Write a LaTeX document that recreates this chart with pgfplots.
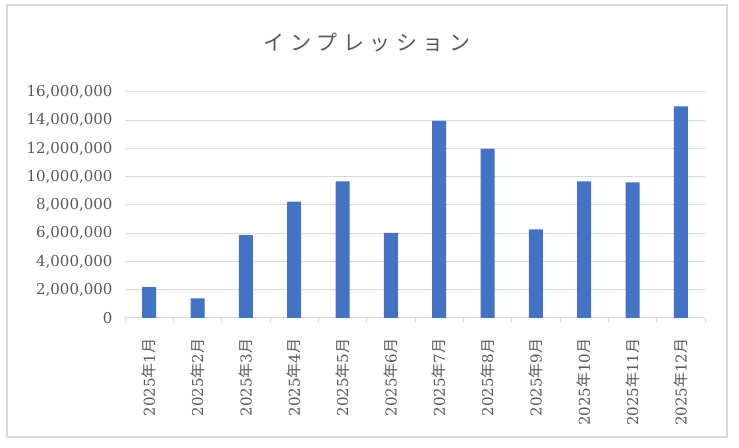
\documentclass[border=0pt]{standalone}
\usepackage{pgfplots}
\pgfplotsset{compat=1.18}
\usepackage{fontspec}
\setmainfont{DejaVu Serif}
\newfontfamily\cjk{Noto Sans CJK JP}
\definecolor{barblue}{HTML}{4472C4}
\definecolor{gridgray}{HTML}{D9D9D9}
\definecolor{textgray}{HTML}{595959}
\begin{document}
\begin{tikzpicture}[x=1bp,y=1bp]
\path (0,0) rectangle (739,448);
\draw[gridgray, line width=1.2bp] (7,11) rectangle (727,443);
\node[textgray, font=\cjk\fontsize{21bp}{24bp}\selectfont] at (367,405)
  {イ\hspace{5.5bp}ン\hspace{5.5bp}プ\hspace{5.5bp}レ\hspace{5.5bp}ッ\hspace{5.5bp}シ\hspace{5.5bp}ョ\hspace{5.5bp}ン};
\begin{axis}[
  at={(125bp,130bp)}, anchor=south west,
  scale only axis, width=580bp, height=226bp,
  ymin=0, ymax=16000000, xmin=-0.5, xmax=11.5,
  ybar, bar width=14bp,
  ytick={0,2000000,4000000,6000000,8000000,10000000,12000000,14000000,16000000},
  scaled y ticks=false,
  /pgf/number format/.cd, fixed, 1000 sep={,}, precision=0, assume math mode=true, /pgfplots/.cd,
  ymajorgrids, grid style={gridgray, line width=1bp},
  axis x line*=bottom, axis y line*=left,
  x axis line style={gridgray, line width=1bp, -},
  y axis line style={draw=none},
  ytick style={draw=none},
  xtick={0,1,...,11},
  minor xtick={-0.5,0.5,...,11.5},
  major tick length=0pt, minor tick length=5bp,
  tick align=outside,
  xtick style={gridgray, line width=1bp},
  minor x tick style={gridgray, line width=1bp},
  ticklabel style={font=\fontsize{15bp}{18bp}\selectfont, text=textgray},
  yticklabel style={xshift=-9bp},
  xticklabel style={yshift=-17bp, rotate=90, anchor=east},
  xticklabels={
    {2025{\cjk 年}1{\cjk 月}},{2025{\cjk 年}2{\cjk 月}},{2025{\cjk 年}3{\cjk 月}},
    {2025{\cjk 年}4{\cjk 月}},{2025{\cjk 年}5{\cjk 月}},{2025{\cjk 年}6{\cjk 月}},
    {2025{\cjk 年}7{\cjk 月}},{2025{\cjk 年}8{\cjk 月}},{2025{\cjk 年}9{\cjk 月}},
    {2025{\cjk 年}10{\cjk 月}},{2025{\cjk 年}11{\cjk 月}},{2025{\cjk 年}12{\cjk 月}}},
]
\addplot[fill=barblue, draw=none] coordinates {
  (0,2190000) (1,1390000) (2,5870000) (3,8230000) (4,9670000) (5,6020000)
  (6,13960000) (7,11980000) (8,6270000) (9,9670000) (10,9600000) (11,14980000)
};
\end{axis}
\end{tikzpicture}
\end{document}
